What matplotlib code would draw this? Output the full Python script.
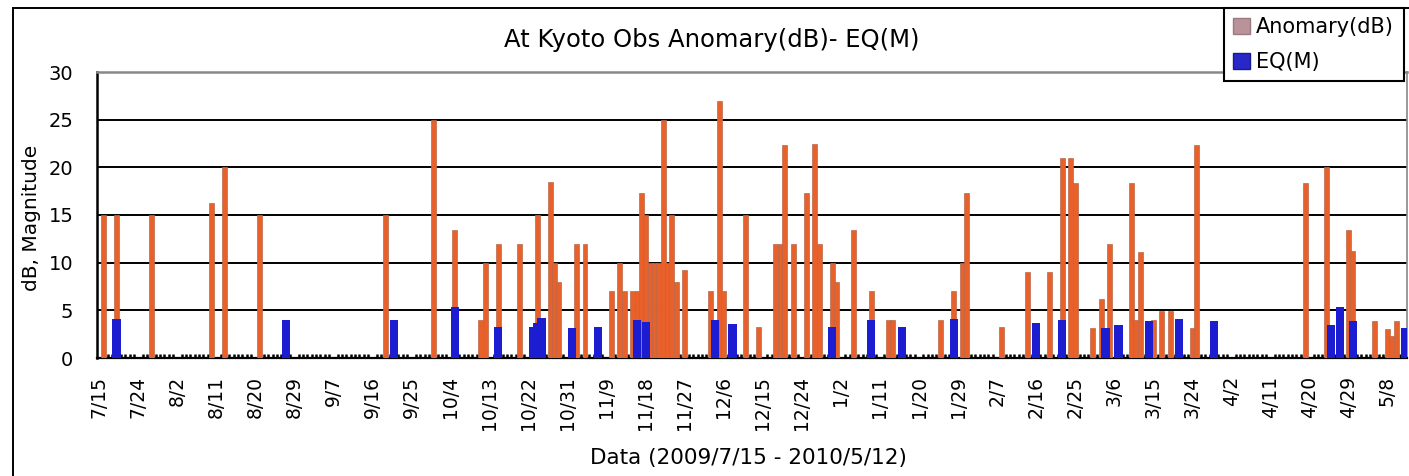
import numpy as np
import pandas as pd
import matplotlib
matplotlib.use("Agg")
import matplotlib.pyplot as plt
from matplotlib.patches import Patch, Rectangle
from matplotlib.ticker import MultipleLocator, FixedLocator

# ---- data -------------------------------------------------------------
start_date = "2009-07-15"
end_date = "2010-05-12"

anomaly_day = [1, 4, 12, 26, 29, 37, 66, 77, 82, 88,
               89, 92, 97, 101, 104, 105, 106, 110, 112, 118,
               120, 121, 123, 124, 125, 126, 127, 128, 129, 130,
               131, 132, 133, 135, 141, 143, 144, 149, 152, 156,
               157, 158, 160, 163, 165, 166, 169, 170, 174,
               178, 182, 183, 194, 197, 199, 200, 208, 214, 219,
               222, 224, 225, 229, 231, 233, 238, 239, 240, 243,
               245, 247, 252, 253, 278, 283, 288, 289, 294, 297,
               298, 299]
anomaly_val = [15, 15, 15, 16.3, 20, 15, 15, 25, 13.4, 4,
               10, 12, 12, 15, 18.5, 10, 8, 12, 12, 7,
               10, 7, 7, 7, 17.3, 15, 10, 10, 10, 25,
               10, 15, 8, 9.2, 7, 27, 7, 15, 3.2, 12,
               12, 22.3, 12, 17.3, 22.4, 12, 10, 8, 13.4,
               7, 4, 4, 4, 7, 10, 17.3, 3.2, 9, 9,
               21, 21, 18.4, 3.1, 6.2, 12, 18.4, 4, 11.1, 4,
               4.9, 4.9, 3.1, 22.3, 18.4, 20, 13.4, 11.2, 3.9, 3.0,
               2.3, 3.9]

eq_day = [4, 43, 68, 82, 92, 100, 101, 102, 109, 115,
          124, 126, 142, 146, 169, 178, 185, 197, 216, 222,
          232, 235, 242, 249, 257, 284, 286, 289, 301]
eq_val = [4.1, 4.0, 4.0, 5.4, 3.2, 3.2, 3.7, 4.2, 3.1, 3.3,
          4.0, 3.8, 4.0, 3.6, 3.3, 4.0, 3.3, 4.1, 3.7, 4.0,
          3.1, 3.5, 3.9, 4.1, 3.9, 3.5, 5.3, 3.9, 3.1]

title = "At Kyoto Obs Anomary(dB)- EQ(M)"
xlabel = "Data (2009/7/15 - 2010/5/12)"
ylabel = "dB, Magnitude"
legend_labels = ["Anomary(dB)", "EQ(M)"]

# ---- figure -----------------------------------------------------------
W, H = 1409, 476
dates = pd.date_range(start_date, end_date, freq="D")
n = len(dates)
tick_idx = np.arange(0, n, 9)
tick_labels = [f"{d.month}/{d.day}" for d in dates[tick_idx]]

fig = plt.figure(figsize=(W / 100, H / 100), dpi=100)
fig.patch.set_facecolor("white")

# outer chart border
fig.add_artist(Rectangle((13 / W, -0.5), 2.0, 0.5 + 1 - 8 / H,
                         transform=fig.transFigure, fill=False,
                         edgecolor="black", linewidth=1.4))

ax = fig.add_axes([97 / W, 1 - 358 / H, (1407 - 97) / W, (358 - 72) / H])

ax.bar(anomaly_day, anomaly_val, width=1.15, color="#E8602A",
       edgecolor="#B8684C", linewidth=0.5, zorder=3)
ax.bar(eq_day, eq_val, width=1.9, color="#1C1CD0", zorder=4)

ax.set_xlim(-0.5, n - 0.5)
ax.set_ylim(0, 30)
ax.set_yticks(range(0, 31, 5))
for v in range(5, 30, 5):
    ax.axhline(v, color="black", lw=1.4, zorder=1)

ax.xaxis.set_major_locator(FixedLocator(tick_idx))
ax.set_xticklabels(tick_labels, rotation=90, fontsize=13.5)
ax.xaxis.set_minor_locator(MultipleLocator(1))
ax.tick_params(axis="x", which="major", length=0, pad=13)
ax.tick_params(axis="x", which="minor", direction="in", length=3,
               width=1.8, color="black")
ax.tick_params(axis="y", length=0, pad=17, labelsize=14)

ax.spines["left"].set_color("black")
ax.spines["left"].set_linewidth(1.8)
ax.spines["bottom"].set_color("black")
ax.spines["bottom"].set_linewidth(1.6)
ax.spines["top"].set_color("#888888")
ax.spines["top"].set_linewidth(1.8)
ax.spines["right"].set_color("#888888")
ax.spines["right"].set_linewidth(1.2)
ax.set_zorder(2)

ax.set_ylabel(ylabel, fontsize=14.5)
ax.yaxis.set_label_coords(-0.043, 0.49)

fig.text(712 / W, 1 - 40 / H, title, ha="center", va="center", fontsize=17.5)
fig.text(748 / W, 1 - 458 / H, xlabel, ha="center", va="center", fontsize=15.5)

handles = [Patch(facecolor="#B8939A", edgecolor="#9A7A80"),
           Patch(facecolor="#2828C8", edgecolor="#1A1A90")]
leg = fig.legend(handles, legend_labels, loc="upper left",
                 bbox_to_anchor=(1224 / W, 1 - 8 / H), frameon=True,
                 fancybox=False, edgecolor="black", framealpha=1,
                 fontsize=15, handlelength=0.8, handleheight=0.8,
                 handletextpad=0.3, borderpad=0.45, labelspacing=0.7,
                 borderaxespad=0)
leg.get_frame().set_linewidth(1.5)

fig.savefig("out.png", dpi=100)
